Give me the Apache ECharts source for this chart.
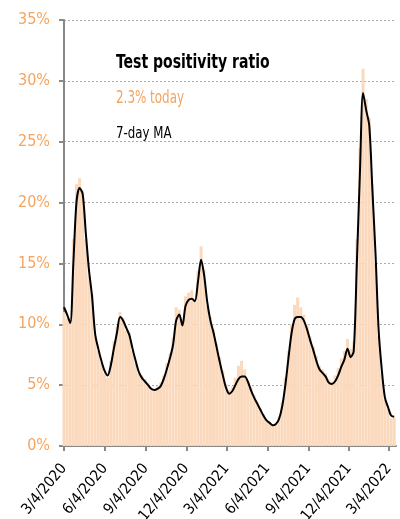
<!DOCTYPE html>
<html>
<head>
<meta charset="utf-8">
<script src="https://cdn.jsdelivr.net/npm/echarts@6/dist/echarts.min.js"></script>
<style>
  html, body { margin: 0; padding: 0; background: #fff; }
  #chart { width: 400px; height: 519px; }
</style>
</head>
<body>
<div id="chart"></div>
<script>
// weekly readings, first week starts 3/4/2020
var startDate = '3/4/2020'
var stepDays = 7
// daily test positivity (%), sampled weekly
var dailyPct = [
  11.0, 10.5, 10.4, 17.0, 21.5, 22.0, 21.0, 17.0, 14.0, 12.5,
  9.0, 7.8, 6.8, 6.0, 5.6, 7.0, 8.6, 9.8, 11.0, 10.5,
  9.5, 9.3, 7.8, 6.8, 6.0, 5.8, 5.5, 5.2, 4.6, 4.5,
  4.9, 5.2, 5.8, 6.8, 7.6, 8.9, 11.4, 11.2, 10.4, 12.3,
  12.6, 12.8, 12.0, 14.4, 16.4, 14.5, 11.5, 10.6, 9.6, 8.4,
  7.3, 6.2, 5.1, 4.6, 4.9, 5.6, 6.6, 7.0, 6.3, 5.4,
  4.8, 4.2, 3.6, 3.1, 2.6, 2.2, 2.0, 1.8, 1.9, 2.4,
  3.6, 5.6, 7.8, 10.0, 11.6, 12.2, 11.4, 10.8, 10.0, 9.0,
  8.2, 7.4, 6.6, 6.3, 6.0, 5.5, 5.3, 5.8, 6.4, 7.2,
  7.8, 8.8, 8.0, 8.6, 17.0, 24.5, 31.0, 28.5, 27.0, 21.5,
  15.0, 9.0, 6.0, 3.8, 3.0, 2.3, 2.3
]
// 7-day moving average (%)
var maPct = [
  11.4, 10.8, 10.1, 15.0, 20.0, 21.2, 20.7, 17.5, 14.5, 12.3,
  9.2, 8.0, 7.0, 6.2, 5.8, 6.6, 8.0, 9.3, 10.6, 10.3,
  9.7, 9.1, 8.0, 7.0, 6.1, 5.6, 5.3, 5.0, 4.7, 4.6,
  4.7, 4.9, 5.5, 6.3, 7.2, 8.3, 10.3, 10.8, 9.9, 11.5,
  12.0, 12.1, 11.9, 13.5, 15.3, 14.0, 11.8, 10.3, 9.3, 8.1,
  6.9, 5.8, 4.8, 4.3, 4.5, 5.0, 5.5, 5.7, 5.7, 5.3,
  4.6, 4.0, 3.5, 3.0, 2.5, 2.1, 1.9, 1.7, 1.8, 2.2,
  3.2, 4.9, 7.1, 9.2, 10.4, 10.6, 10.6, 10.3, 9.6, 8.7,
  7.9, 7.0, 6.3, 6.0, 5.7, 5.2, 5.1, 5.3, 5.8, 6.5,
  7.1, 8.0, 7.3, 7.8, 15.0, 22.5, 29.0, 27.6, 26.3, 21.0,
  15.8, 9.5, 6.3, 4.0, 3.2, 2.5, 2.4
]
var tickDates = ['3/4/2020', '6/4/2020', '9/4/2020', '12/4/2020', '3/4/2021',
  '6/4/2021', '9/4/2021', '12/4/2021', '3/4/2022']
var axisEnd = '3/20/2022'
var todayText = '2.3% today'

var orange = '#f5a45e'
var narrow = "'DejaVu Sans Condensed', 'Liberation Sans Narrow', sans-serif"

// x axis in days since startDate
function dayOf(s) {
  var p = s.split('/')
  var q = startDate.split('/')
  var t = Date.UTC(+p[2], +p[0] - 1, +p[1]) - Date.UTC(+q[2], +q[0] - 1, +q[1])
  return Math.round(t / 86400000)
}

var barData = dailyPct.map(function(v, i) { return [i * stepDays, v] })
var lineData = maPct.map(function(v, i) { return [i * stepDays, v] })
var tickDays = tickDates.map(dayOf)

var chart = echarts.init(document.getElementById('chart'))
chart.setOption({
  animation: false,
  // condensed headline, squeezed to match the narrow face
  graphic: [
    {
      type: 'text', x: 116, y: 63, scaleX: 0.78,
      style: { text: 'Test positivity ratio', font: 'bold 20px ' + narrow, fill: '#000', verticalAlign: 'middle' }
    },
    {
      type: 'text', x: 116, y: 99, scaleX: 0.78,
      style: { text: todayText, font: '17px ' + narrow, fill: orange, verticalAlign: 'middle' }
    },
    {
      type: 'text', x: 116, y: 134, scaleX: 0.82,
      style: { text: '7-day MA', font: '16px ' + narrow, fill: '#000', verticalAlign: 'middle' }
    }
  ],
  grid: {
    left: 64,
    right: 4,
    top: 20,
    bottom: 73,
    outerBoundsMode: 'none'
  },
  xAxis: {
    type: 'value',
    min: 0,
    max: dayOf(axisEnd),
    axisLine: { lineStyle: { color: '#888', width: 2 } },
    axisTick: {
      show: true,
      customValues: tickDays,
      length: 5,
      lineStyle: { color: '#888', width: 2 }
    },
    axisLabel: {
      customValues: tickDays,
      rotate: 50,
      margin: 20,
      fontFamily: narrow,
      fontSize: 15,
      color: '#000',
      formatter: function(val) {
        var i = tickDays.indexOf(Math.round(val))
        return i >= 0 ? tickDates[i] : ''
      }
    },
    splitLine: { show: false }
  },
  yAxis: {
    type: 'value',
    min: 0,
    max: 35,
    interval: 5,
    axisLine: { show: true, lineStyle: { color: '#888', width: 2 } },
    axisTick: { show: true, length: 5, lineStyle: { color: '#888', width: 2 } },
    axisLabel: {
      formatter: '{value}%',
      fontFamily: narrow,
      fontSize: 16,
      color: orange,
      margin: 14
    },
    splitLine: { lineStyle: { color: '#aaa', type: [2, 2], width: 1 } }
  },
  series: [
    {
      name: 'Daily',
      type: 'bar',
      data: barData,
      barWidth: 3,
      itemStyle: { color: '#fbd9bd' },
      silent: true
    },
    {
      name: '7-day MA',
      type: 'line',
      data: lineData,
      showSymbol: false,
      smooth: 0.3,
      lineStyle: { color: '#000', width: 2 },
      z: 3
    }
  ]
})
</script>
</body>
</html>
